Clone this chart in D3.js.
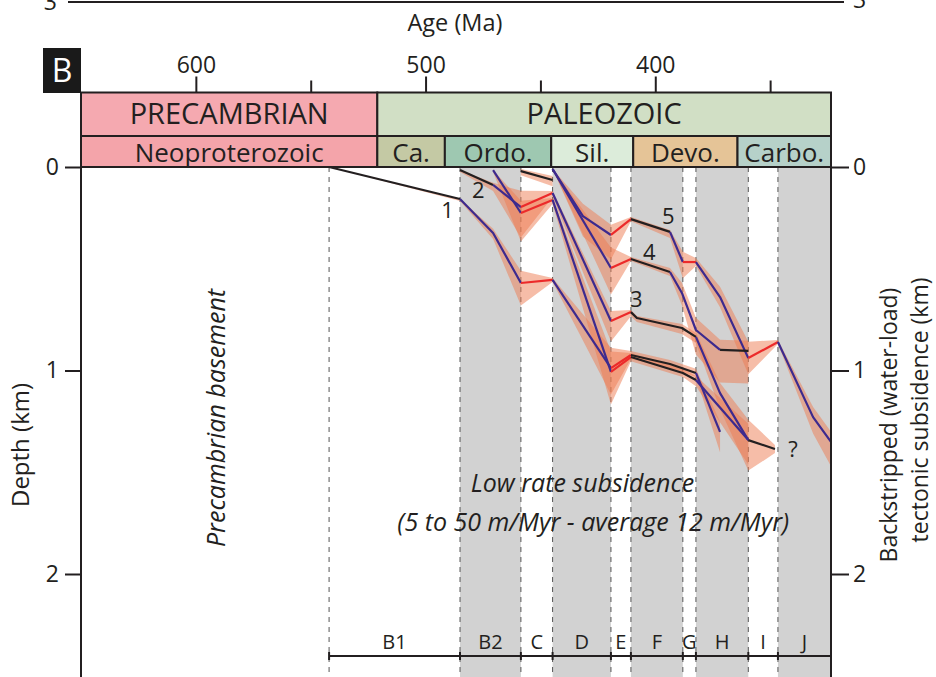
<!DOCTYPE html>
<html lang="en">

<head>
    <meta charset="UTF-8" />
    <title>Backstripped tectonic subsidence</title>
    <style>
        body { margin: 0; background: #fff; }
        svg { display: block; font-family: 'Open Sans', sans-serif; }
        text { fill: #231f20; }
    </style>
</head>

<body>
    <svg id="chart" width="936" height="677"></svg>

    <script src="https://cdn.jsdelivr.net/npm/d3@7"></script>
    <script>
        // ---- data ----
        const ageTicks = [600, 500, 400];
        const ageMinorTicks = [550, 450, 350];
        const depthTicks = [0, 1, 2];

        const eraNames = ['PRECAMBRIAN', 'PALEOZOIC'];
        const eraBounds = [650, 521, 323.5];
        const periodNames = ['Neoproterozoic', 'Ca.', 'Ordo.', 'Sil.', 'Devo.', 'Carbo.'];
        const periodBounds = [650, 521, 491.6, 445.3, 409.6, 364.2, 323.5];

        const intervalNames = ['B1', 'B2', 'C', 'D', 'E', 'F', 'G', 'H', 'I', 'J'];
        const intervalBounds = [542, 485, 458.5, 444.7, 419.3, 410.6, 388, 382.3, 359.5, 346.6, 323.5];
        const shadedIntervals = ['B2', 'D', 'F', 'H', 'J'];

        // [age Ma, depth km, uncertainty above, uncertainty below, phase of next segment]
        // phase: sed = sediment record, sub = subsidence, gap = hiatus
        const curveA = [
            [542, 0, 0, 0, 'sed'], [485, 0.157, 0, 0.01, 'sub'], [470.6, 0.324, 0.02, 0.03, 'sub'],
            [458.5, 0.570, 0.06, 0.11, 'gap'], [444.7, 0.555, 0.01, 0.01, 'sub'], [419.3, 0.988, 0.10, 0.13, 'gap'],
            [410.6, 0.924, 0.02, 0.02, 'sed'], [393.6, 0.968, 0.02, 0.02, 'sed'], [382.3, 1.012, 0.02, 0.02, 'sub'],
            [371.8, 1.302, 0.05, 0.10, '']
        ];
        const curveB = [
            [485, 0.015, 0, 0.01, 'sed'], [470.6, 0.088, 0.01, 0.03, 'sub'], [458.5, 0.197, 0.08, 0.15, 'gap'],
            [444.7, 0.128, 0.01, 0.02, 'sub'], [419.3, 0.757, 0.05, 0.10, 'gap'], [410.6, 0.713, 0.01, 0.02, 'sed'],
            [408, 0.742, 0.01, 0.02, 'sed'], [388.4, 0.791, 0.02, 0.03, 'sed'], [382.3, 0.835, 0.02, 0.03, 'sub'],
            [371.8, 1.111, 0.05, 0.08, 'sub'], [359.5, 1.342, 0.10, 0.15, 'sed'], [347.9, 1.386, 0.02, 0.02, '']
        ];
        const curveC = [
            [470.6, 0.015, 0, 0.01, 'sub'], [458.5, 0.226, 0.06, 0.14, 'gap'], [444.7, 0.162, 0.01, 0.02, 'sub'],
            [419.3, 1.007, 0.10, 0.16, 'gap'], [410.6, 0.934, 0.02, 0.02, 'sed'], [388, 1.012, 0.02, 0.02, 'sed'],
            [382.3, 1.047, 0.02, 0.03, 'sub'], [359.5, 1.342, 0.08, 0.12, '']
        ];
        const curveD = [
            [458.5, 0.02, 0.01, 0.02, 'sed'], [444.7, 0.064, 0.02, 0.03, '']
        ];
        const curveE = [
            [444.7, 0.01, 0, 0, 'sub'], [431.5, 0.241, 0.06, 0.10, 'sub'], [419.3, 0.334, 0.05, 0.12, 'gap'],
            [410.6, 0.256, 0.01, 0.01, 'sed'], [393.6, 0.319, 0.01, 0.03, 'sub'], [388, 0.467, 0.05, 0.08, 'gap'],
            [382.3, 0.467, 0.02, 0.02, 'sub'], [371.8, 0.639, 0.05, 0.05, 'sub'], [359.5, 0.939, 0.08, 0.08, 'gap'],
            [346.6, 0.860, 0.01, 0.01, 'sub'], [331.3, 1.229, 0.05, 0.08, 'sub'], [323.5, 1.351, 0.05, 0.12, '']
        ];
        const curveF = [
            [444.7, 0.01, 0, 0, 'sub'], [419.3, 0.496, 0.10, 0.13, 'gap'], [410.6, 0.452, 0.01, 0.01, 'sed'],
            [393.6, 0.516, 0.02, 0.02, 'sub'], [388.4, 0.619, 0.05, 0.06, 'sub'], [382.3, 0.801, 0.06, 0.12, 'sub'],
            [371.8, 0.899, 0.05, 0.16, 'sed'], [359.5, 0.904, 0.05, 0.16, '']
        ];
        const curves = [curveA, curveB, curveC, curveD, curveE, curveF];

        // well labels [text, age, depth]
        const wellLabels = [['1', 490.4, 0.251], ['2', 477, 0.152], ['3', 408.3, 0.688],
            ['4', 402.6, 0.457], ['5', 394.3, 0.28], ['?', 340, 1.425]];

        // ---- styles ----
        const phaseColor = { sed: '#231f20', sub: '#3d2a8e', gap: '#ec2a2a' };
        const eraColor = { PRECAMBRIAN: '#f5a9b0', PALEOZOIC: '#d1dfc5' };
        const periodColor = {
            'Neoproterozoic': '#f4a4aa', 'Ca.': '#c4c9a4', 'Ordo.': '#9ec8b1',
            'Sil.': '#dcecda', 'Devo.': '#e5c497', 'Carbo.': '#b6d1c9'
        };

        const svg = d3.select('#chart');
        const x = d3.scaleLinear().domain([650, 323.5]).range([81, 831]);
        const y = d3.scaleLinear().domain([0, 2]).range([167, 574]);
        const yBottom = 677;

        // remnant of panel A above
        svg.append('line').attr('x1', 68).attr('x2', 844).attr('y1', 2).attr('y2', 2)
            .attr('stroke', '#231f20').attr('stroke-width', 2);
        svg.append('text').attr('x', 57).attr('y', 10).attr('text-anchor', 'end').attr('font-size', 23).text('3');
        svg.append('text').attr('x', 853).attr('y', 8).attr('font-size', 23).text('3');
        svg.append('text').attr('x', 455).attr('y', 31).attr('text-anchor', 'middle')
            .attr('font-size', 23.5).text('Age (Ma)');

        // shaded intervals
        const intervals = intervalNames.map((name, i) => ({ name, from: intervalBounds[i], to: intervalBounds[i + 1] }));
        svg.append('g').selectAll('rect')
            .data(intervals.filter(d => shadedIntervals.includes(d.name)))
            .join('rect')
            .attr('x', d => x(d.from))
            .attr('width', d => x(d.to) - x(d.from))
            .attr('y', y(0))
            .attr('height', yBottom - y(0))
            .attr('fill', '#d2d2d2');

        svg.append('g').selectAll('line')
            .data(intervalBounds.slice(0, -1))
            .join('line')
            .attr('x1', d => x(d)).attr('x2', d => x(d))
            .attr('y1', y(0)).attr('y2', yBottom)
            .attr('stroke', '#555').attr('stroke-width', 1)
            .attr('stroke-dasharray', '5,5');

        // uncertainty envelopes
        const envelope = d3.area()
            .x(d => x(d[0]))
            .y0(d => y(d[1] - d[2]))
            .y1(d => y(d[1] + d[3]));
        svg.append('g').selectAll('path')
            .data(curves)
            .join('path')
            .attr('d', envelope)
            .attr('fill', '#ee7b52')
            .attr('fill-opacity', 0.5);

        // curve lines, split into runs of one phase
        const runs = [];
        curves.forEach(c => {
            for (let i = 0; i < c.length - 1; i++) {
                const last = runs[runs.length - 1];
                if (i > 0 && last.phase === c[i][4]) last.pts.push(c[i + 1]);
                else runs.push({ phase: c[i][4], pts: [c[i], c[i + 1]] });
            }
        });
        const line = d3.line().x(d => x(d[0])).y(d => y(d[1]));
        svg.append('g').selectAll('path')
            .data(runs)
            .join('path')
            .attr('d', d => line(d.pts))
            .attr('fill', 'none')
            .attr('stroke', d => phaseColor[d.phase])
            .attr('stroke-width', 2.2)
            .attr('stroke-linejoin', 'round');

        svg.append('g').selectAll('text')
            .data(wellLabels)
            .join('text')
            .attr('x', d => x(d[1]))
            .attr('y', d => y(d[2]))
            .attr('text-anchor', 'middle')
            .attr('font-size', 22)
            .text(d => d[0]);

        // text notes
        svg.append('text').attr('x', x(431.7)).attr('y', 492)
            .attr('text-anchor', 'middle').attr('font-size', 25).attr('font-style', 'italic')
            .text('Low rate subsidence');
        svg.append('text').attr('x', x(427)).attr('y', 531)
            .attr('text-anchor', 'middle').attr('font-size', 25).attr('font-style', 'italic')
            .text('(5 to 50 m/Myr - average 12 m/Myr)');
        svg.append('text').attr('transform', 'translate(225,418) rotate(-90)')
            .attr('text-anchor', 'middle').attr('font-size', 25).attr('font-style', 'italic')
            .text('Precambrian basement');

        // interval bar
        const barY = 656;
        svg.append('line').attr('x1', x(intervalBounds[0])).attr('x2', x(323.5))
            .attr('y1', barY).attr('y2', barY).attr('stroke', '#231f20').attr('stroke-width', 2);
        svg.append('g').selectAll('line')
            .data(intervalBounds)
            .join('line')
            .attr('x1', d => x(d)).attr('x2', d => x(d))
            .attr('y1', barY - 4).attr('y2', barY + 4)
            .attr('stroke', '#231f20').attr('stroke-width', 2);
        svg.append('g').selectAll('text')
            .data(intervals)
            .join('text')
            .attr('x', d => (x(d.from) + x(d.to)) / 2)
            .attr('y', barY - 7)
            .attr('text-anchor', 'middle')
            .attr('font-size', 20)
            .text(d => d.name);

        // time scale boxes
        const eras = eraNames.map((name, i) => ({ name, from: eraBounds[i], to: eraBounds[i + 1] }));
        const periods = periodNames.map((name, i) => ({ name, from: periodBounds[i], to: periodBounds[i + 1] }));
        const eraTop = 92.5, rowMid = 136, rowBottom = y(0);

        const eraG = svg.append('g').selectAll('g').data(eras).join('g');
        eraG.append('rect')
            .attr('x', d => x(d.from)).attr('width', d => x(d.to) - x(d.from))
            .attr('y', eraTop).attr('height', rowMid - eraTop)
            .attr('fill', d => eraColor[d.name]).attr('stroke', '#231f20').attr('stroke-width', 2);
        eraG.append('text')
            .attr('x', d => (x(d.from) + x(d.to)) / 2).attr('y', 123.5)
            .attr('text-anchor', 'middle').attr('font-size', 29)
            .text(d => d.name);

        const perG = svg.append('g').selectAll('g').data(periods).join('g');
        perG.append('rect')
            .attr('x', d => x(d.from)).attr('width', d => x(d.to) - x(d.from))
            .attr('y', rowMid).attr('height', rowBottom - rowMid)
            .attr('fill', d => periodColor[d.name]).attr('stroke', '#231f20').attr('stroke-width', 2);
        perG.append('text')
            .attr('x', d => (x(d.from) + x(d.to)) / 2).attr('y', 162)
            .attr('text-anchor', 'middle').attr('font-size', 26)
            .text(d => d.name);

        // axes
        const styleAxis = g => {
            g.select('.domain').remove();
            g.selectAll('.tick line').attr('stroke', '#231f20').attr('stroke-width', 2);
            g.selectAll('.tick text').attr('fill', '#231f20').attr('font-family', "'Open Sans', sans-serif").attr('font-size', 23);
        };
        svg.append('g').attr('transform', `translate(0,${eraTop})`)
            .call(d3.axisTop(x).tickValues(ageTicks).tickSize(16).tickPadding(4).tickFormat(d3.format('d')))
            .call(styleAxis);
        svg.append('g').attr('transform', `translate(0,${eraTop})`)
            .call(d3.axisTop(x).tickValues(ageMinorTicks).tickSize(12).tickFormat(''))
            .call(styleAxis);
        svg.append('g').attr('transform', `translate(${x.range()[0]},0)`)
            .call(d3.axisLeft(y).tickValues(depthTicks).tickSize(16).tickPadding(6).tickFormat(d3.format('d')))
            .call(styleAxis);
        svg.append('g').attr('transform', `translate(${x.range()[1]},0)`)
            .call(d3.axisRight(y).tickValues(depthTicks).tickSize(18).tickPadding(4).tickFormat(d3.format('d')))
            .call(styleAxis);
        [x.range()[0], x.range()[1]].forEach(px => {
            svg.append('line').attr('x1', px).attr('x2', px).attr('y1', eraTop).attr('y2', yBottom)
                .attr('stroke', '#231f20').attr('stroke-width', 2);
        });

        svg.append('text').attr('transform', 'translate(29,445) rotate(-90)')
            .attr('text-anchor', 'middle').attr('font-size', 24).text('Depth (km)');
        svg.append('text').attr('transform', 'translate(897,425) rotate(-90)')
            .attr('text-anchor', 'middle').attr('font-size', 23).text('Backstripped (water-load)');
        svg.append('text').attr('transform', 'translate(928,410) rotate(-90)')
            .attr('text-anchor', 'middle').attr('font-size', 23).text('tectonic subsidence (km)');

        // panel letter
        svg.append('rect').attr('x', 43).attr('y', 48).attr('width', 38).attr('height', 45).attr('fill', '#1a1a1a');
        svg.append('text').attr('x', 62).attr('y', 82).attr('text-anchor', 'middle')
            .attr('font-size', 32).style('fill', '#fff').text('B');
    </script>
</body>

</html>
